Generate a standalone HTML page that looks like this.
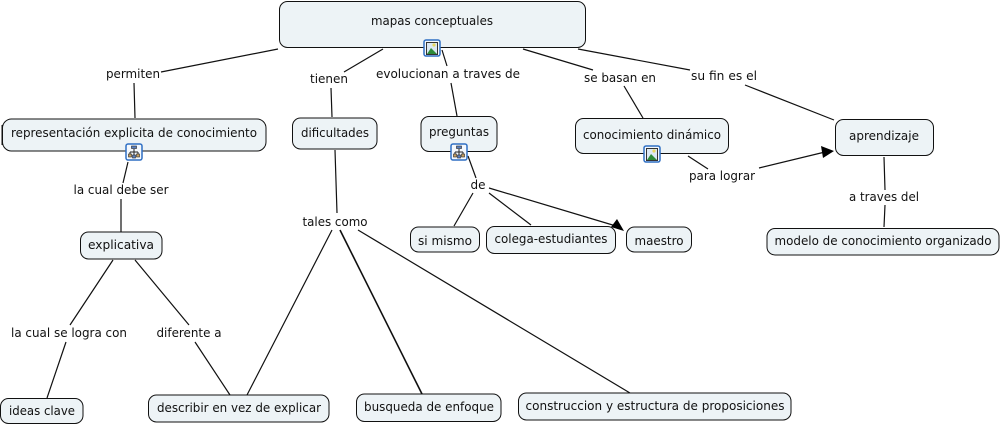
<!DOCTYPE html>
<html>
<head>
<meta charset="utf-8">
<style>
html,body{margin:0;padding:0;background:#fff;width:1002px;height:426px;overflow:hidden}
svg{display:block}
text{font-family:"DejaVu Sans","Liberation Sans",sans-serif;font-size:12px;fill:#111;text-anchor:middle}
.n{fill:#edf3f6;stroke:#111;stroke-width:1}
.l{stroke:#111;stroke-width:1.2;fill:none}
.ic{fill:#f4f8fd;stroke:#2f6fc4;stroke-width:1.5}
</style>
</head>
<body>
<svg width="1002" height="426" viewBox="0 0 1002 426" xmlns="http://www.w3.org/2000/svg">
<!-- connectors -->
<path class="l" d="M278 49L161 72M134 83L135 118M383 49L344 72M331 88L332 117M442 50L447 66M451 83L457 116M523 49L593 70M624 86L643 118M578 49L690 70M745 85L834 120M128 162L123 183M121 199L121 232M113 260L70 325M66 342L47 398M135 260L189 325M195 342L230 395M335 150L337 213M332 230L247 395M358 230L630 393M468 156L476 178M473 193L454 226M489 193L531 225M489 188L616 226M688 156L708 169M759 168L825 152M884 157L885 190M885 205L884 227"/>
<path d="M340 230L422 394" stroke="#111" stroke-width="1.6" fill="none"/>
<path d="M624 231L611 227L617 219Z" fill="#000"/>
<path d="M834 151L821 146L823 158Z" fill="#000"/>
<path d="M2 125V145" stroke="#111" stroke-width="1"/>
<!-- nodes -->
<rect class="n" x="279.5" y="1.5" width="306" height="46" rx="8"/>
<rect class="n" x="2.5" y="119" width="263.5" height="32" rx="9"/>
<rect class="n" x="292.5" y="118" width="84.5" height="31" rx="8"/>
<rect class="n" x="421" y="116.5" width="76" height="35" rx="8"/>
<rect class="n" x="575.5" y="118.5" width="153" height="35" rx="8"/>
<rect class="n" x="835.5" y="119.5" width="98" height="36" rx="8"/>
<rect class="n" x="80.5" y="232" width="81.5" height="27" rx="8"/>
<rect class="n" x="410.5" y="227" width="69" height="25" rx="8"/>
<rect class="n" x="486.5" y="226.5" width="129" height="27" rx="8"/>
<rect class="n" x="626.5" y="227" width="65" height="25" rx="8"/>
<rect class="n" x="767" y="228.5" width="232" height="26.5" rx="8"/>
<rect class="n" x="0.5" y="398.5" width="82.5" height="25" rx="8"/>
<rect class="n" x="148.5" y="395" width="180.5" height="27" rx="8"/>
<rect class="n" x="356.5" y="394" width="144.5" height="27.5" rx="8"/>
<rect class="n" x="518.5" y="393" width="272.5" height="27" rx="8"/>
<!-- node text -->
<text x="432" y="25" textLength="122" lengthAdjust="spacingAndGlyphs">mapas conceptuales</text>
<text x="134" y="137" textLength="246" lengthAdjust="spacingAndGlyphs">representación explicita de conocimiento</text>
<text x="335" y="137" textLength="68" lengthAdjust="spacingAndGlyphs">dificultades</text>
<text x="459" y="136" textLength="60" lengthAdjust="spacingAndGlyphs">preguntas</text>
<text x="652" y="139" textLength="138" lengthAdjust="spacingAndGlyphs">conocimiento dinámico</text>
<text x="884" y="140" textLength="70" lengthAdjust="spacingAndGlyphs">aprendizaje</text>
<text x="121" y="249" textLength="66" lengthAdjust="spacingAndGlyphs">explicativa</text>
<text x="445" y="245" textLength="54" lengthAdjust="spacingAndGlyphs">si mismo</text>
<text x="551" y="243" textLength="113" lengthAdjust="spacingAndGlyphs">colega-estudiantes</text>
<text x="659" y="245" textLength="49" lengthAdjust="spacingAndGlyphs">maestro</text>
<text x="883" y="245" textLength="217" lengthAdjust="spacingAndGlyphs">modelo de conocimiento organizado</text>
<text x="42" y="415" textLength="66" lengthAdjust="spacingAndGlyphs">ideas clave</text>
<text x="239" y="412" textLength="164" lengthAdjust="spacingAndGlyphs">describir en vez de explicar</text>
<text x="429" y="411" textLength="130" lengthAdjust="spacingAndGlyphs">busqueda de enfoque</text>
<text x="655" y="410" textLength="259" lengthAdjust="spacingAndGlyphs">construccion y estructura de proposiciones</text>
<!-- link labels -->
<text x="133" y="78" textLength="54" lengthAdjust="spacingAndGlyphs">permiten</text>
<text x="329" y="83" textLength="38" lengthAdjust="spacingAndGlyphs">tienen</text>
<text x="448" y="78" textLength="144" lengthAdjust="spacingAndGlyphs">evolucionan a traves de</text>
<text x="620" y="82" textLength="72" lengthAdjust="spacingAndGlyphs">se basan en</text>
<text x="724" y="80" textLength="66" lengthAdjust="spacingAndGlyphs">su fin es el</text>
<text x="121" y="194" textLength="95" lengthAdjust="spacingAndGlyphs">la cual debe ser</text>
<text x="335" y="226" textLength="65" lengthAdjust="spacingAndGlyphs">tales como</text>
<text x="478" y="189" textLength="15" lengthAdjust="spacingAndGlyphs">de</text>
<text x="722" y="180" textLength="66" lengthAdjust="spacingAndGlyphs">para lograr</text>
<text x="884" y="201" textLength="70" lengthAdjust="spacingAndGlyphs">a traves del</text>
<text x="69" y="337" textLength="116" lengthAdjust="spacingAndGlyphs">la cual se logra con</text>
<text x="189" y="337" textLength="65" lengthAdjust="spacingAndGlyphs">diferente a</text>
<!-- image icons -->
<g>
<rect class="ic" x="424" y="40" width="16" height="16" rx="2"/>
<rect x="426.5" y="42.5" width="11" height="12" fill="#dbe8f5" stroke="#333" stroke-width="1"/>
<circle cx="434" cy="45" r="1.6" fill="#e8d860"/>
<path d="M427 54L431 48L437 54Z" fill="#2e8b3a"/>
</g>
<g>
<rect class="ic" x="644" y="146" width="16" height="16" rx="2"/>
<rect x="646.5" y="148.5" width="11" height="12" fill="#dbe8f5" stroke="#333" stroke-width="1"/>
<circle cx="654" cy="151" r="1.6" fill="#e8d860"/>
<path d="M647 160L651 154L657 160Z" fill="#2e8b3a"/>
</g>
<!-- hierarchy icons -->
<g>
<rect class="ic" x="126" y="144" width="16" height="16" rx="2"/>
<path d="M134 149V155M130 152H138M130 152V154M138 152V154" stroke="#222" stroke-width="1" fill="none"/>
<rect x="131.5" y="146" width="5" height="2.5" fill="#5a80c0" stroke="#222" stroke-width=".6"/>
<rect x="128.5" y="154" width="3" height="3" fill="#c8a060" stroke="#222" stroke-width=".6"/>
<rect x="132.5" y="155" width="3" height="3" fill="#5a80c0" stroke="#222" stroke-width=".6"/>
<rect x="136.5" y="154" width="3" height="3" fill="#c8a060" stroke="#222" stroke-width=".6"/>
</g>
<g>
<rect class="ic" x="451" y="144" width="16" height="16" rx="2"/>
<path d="M459 149V155M455 152H463M455 152V154M463 152V154" stroke="#222" stroke-width="1" fill="none"/>
<rect x="456.5" y="146" width="5" height="2.5" fill="#5a80c0" stroke="#222" stroke-width=".6"/>
<rect x="453.5" y="154" width="3" height="3" fill="#c8a060" stroke="#222" stroke-width=".6"/>
<rect x="457.5" y="155" width="3" height="3" fill="#5a80c0" stroke="#222" stroke-width=".6"/>
<rect x="461.5" y="154" width="3" height="3" fill="#c8a060" stroke="#222" stroke-width=".6"/>
</g>
</svg>
</body>
</html>
